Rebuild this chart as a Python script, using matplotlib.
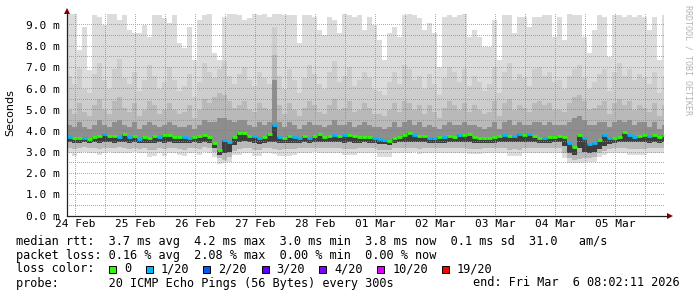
import numpy as np
import matplotlib
matplotlib.use("Agg")
import matplotlib.pyplot as plt
from matplotlib.lines import Line2D
from matplotlib.patches import Rectangle

# Data (ms), one column every 2 hours, starting Feb 24 ~08:30
med = [3.73, 3.68, 3.65, 3.68, 3.60, 3.73, 3.78, 3.86, 3.76, 3.76, 3.70, 3.84, 3.73, 3.76, 3.60, 3.73, 3.68, 3.74, 3.70, 3.81,
       3.79, 3.73, 3.70, 3.70, 3.68, 3.73, 3.76, 3.79, 3.73, 3.45, 3.12, 3.55, 3.47, 3.72, 3.92, 3.89, 3.78, 3.76, 3.65, 3.70,
       3.84, 4.28, 3.73, 3.68, 3.76, 3.73, 3.65, 3.76, 3.68, 3.76, 3.86, 3.73, 3.76, 3.81, 3.78, 3.81, 3.79, 3.76, 3.70, 3.73,
       3.70, 3.65, 3.60, 3.57, 3.54, 3.68, 3.70, 3.81, 3.92, 3.81, 3.76, 3.78, 3.68, 3.65, 3.73, 3.70, 3.78, 3.73, 3.79, 3.79,
       3.84, 3.70, 3.65, 3.66, 3.68, 3.71, 3.76, 3.81, 3.78, 3.76, 3.86, 3.81, 3.86, 3.76, 3.65, 3.68, 3.70, 3.73, 3.78, 3.73,
       3.42, 3.26, 3.81, 3.68, 3.39, 3.42, 3.57, 3.81, 3.65, 3.68, 3.70, 3.95, 3.81, 3.73, 3.76, 3.81, 3.76, 3.79, 3.73, 3.83]

loss = [1, 0, 0, 1, 0, 0, 0, 1, 0, 0, 1, 0, 1, 0, 1, 0, 0, 0, 1, 0,
        0, 0, 0, 1, 1, 0, 0, 0, 0, 0, 0, 1, 1, 0, 0, 0, 0, 1, 1, 0,
        0, 1, 1, 0, 0, 1, 1, 0, 1, 0, 0, 0, 0, 1, 0, 1, 0, 0, 0, 0,
        0, 1, 1, 1, 0, 0, 0, 0, 0, 1, 0, 0, 1, 1, 0, 1, 0, 0, 1, 0,
        0, 0, 0, 0, 0, 0, 0, 1, 0, 1, 1, 0, 1, 0, 0, 1, 0, 0, 0, 0,
        1, 0, 0, 1, 1, 1, 0, 1, 1, 0, 0, 0, 1, 1, 0, 0, 1, 0, 0, 0]

hi = [9.6, 9.6, 7.82, 8.9, 6.87, 9.47, 9.39, 9.0, 9.6, 9.6, 9.23, 9.47, 8.76, 8.6, 8.6, 9.0, 8.45, 9.47, 9.47, 9.31,
      9.07, 9.47, 8.13, 7.89, 8.92, 7.34, 9.23, 9.47, 9.6, 7.66, 7.34, 9.39, 9.6, 9.6, 9.47, 9.23, 9.31, 9.6, 9.47, 9.6,
      9.39, 9.6, 9.6, 9.47, 9.47, 9.47, 8.13, 9.47, 9.47, 9.39, 8.76, 8.53, 9.39, 9.23, 8.6, 9.6, 9.47, 9.39, 9.47, 8.76,
      9.39, 9.0, 8.29, 7.34, 8.6, 8.92, 8.45, 9.47, 9.6, 9.47, 9.31, 8.76, 9.07, 8.6, 7.03, 9.39, 9.47, 9.39, 9.47, 9.6,
      8.45, 8.76, 8.45, 7.97, 7.97, 9.23, 7.34, 9.47, 9.47, 8.6, 9.39, 9.39, 8.92, 9.39, 9.39, 9.47, 9.47, 8.45, 9.39, 8.29,
      9.6, 9.47, 9.47, 8.45, 7.66, 8.76, 9.47, 9.39, 7.5, 9.47, 9.47, 9.39, 9.47, 9.39, 9.47, 9.39, 8.76, 9.39, 7.34, 9.47]

up2 = [6.6, 6.2, 6.9, 6.0, 5.8, 6.7, 7.2, 6.4, 6.0, 6.9, 7.4, 6.5, 6.2, 6.8, 5.9, 6.4, 7.1, 6.6, 6.0, 6.3,
       7.0, 6.4, 5.9, 6.1, 6.7, 5.6, 6.3, 7.2, 6.8, 6.5, 6.9, 7.3, 6.6, 6.2, 6.7, 7.0, 6.4, 6.1, 6.8, 6.5,
       6.2, 8.9, 6.6, 6.0, 6.9, 6.4, 5.8, 6.5, 7.1, 6.7, 6.2, 6.0, 6.8, 7.3, 6.3, 6.6, 7.0, 6.1, 6.4, 6.8,
       6.5, 6.0, 5.9, 5.7, 6.3, 6.8, 6.2, 7.1, 6.9, 6.4, 6.6, 6.0, 6.7, 6.2, 5.7, 6.5, 7.0, 6.8, 6.3, 6.9,
       6.1, 6.6, 6.3, 5.9, 6.2, 7.0, 5.8, 6.8, 7.2, 6.4, 6.7, 6.5, 6.1, 6.9, 7.0, 6.6, 6.8, 6.3, 6.4, 6.0,
       6.6, 6.9, 7.1, 6.5, 6.0, 6.3, 6.7, 6.9, 5.9, 6.8, 7.2, 6.6, 6.9, 6.4, 6.7, 6.5, 6.2, 6.8, 5.8, 6.6]

up1 = [5.0, 4.8, 5.3, 4.9, 4.7, 5.2, 5.5, 5.0, 4.8, 5.4, 5.6, 5.1, 4.9, 5.3, 4.7, 5.0, 5.4, 5.2, 4.8, 5.0,
       5.3, 5.0, 4.8, 4.9, 5.2, 4.6, 5.0, 5.5, 5.3, 5.6, 5.8, 5.7, 5.4, 5.1, 5.2, 5.4, 5.0, 4.9, 5.3, 5.1,
       5.0, 7.6, 5.2, 4.8, 5.3, 5.0, 4.7, 5.1, 5.4, 5.2, 4.9, 4.8, 5.2, 5.5, 5.0, 5.1, 5.4, 4.9, 5.0, 5.3,
       5.1, 4.8, 4.8, 4.7, 5.0, 5.3, 4.9, 5.4, 5.3, 5.0, 5.2, 4.8, 5.2, 4.9, 4.6, 5.1, 5.4, 5.2, 5.0, 5.3,
       4.9, 5.2, 5.0, 4.8, 4.9, 5.4, 4.7, 5.3, 5.5, 5.0, 5.2, 5.1, 4.9, 5.3, 5.4, 5.2, 5.3, 5.0, 5.0, 4.9,
       5.3, 5.6, 5.7, 5.4, 5.0, 5.1, 5.2, 5.4, 4.8, 5.3, 5.5, 5.2, 5.4, 5.0, 5.2, 5.1, 4.9, 5.3, 4.7, 5.2]

up0 = [4.3, 4.2, 4.4, 4.2, 4.1, 4.3, 4.5, 4.3, 4.2, 4.4, 4.5, 4.3, 4.2, 4.4, 4.1, 4.3, 4.4, 4.3, 4.2, 4.3,
       4.4, 4.3, 4.2, 4.2, 4.3, 4.1, 4.3, 4.5, 4.4, 4.4, 4.6, 4.6, 4.5, 4.4, 4.5, 4.5, 4.3, 4.2, 4.4, 4.3,
       4.4, 6.4, 4.4, 4.2, 4.4, 4.3, 4.1, 4.3, 4.4, 4.3, 4.3, 4.2, 4.3, 4.5, 4.3, 4.3, 4.4, 4.2, 4.3, 4.4,
       4.3, 4.2, 4.2, 4.1, 4.2, 4.4, 4.2, 4.4, 4.5, 4.3, 4.4, 4.2, 4.3, 4.2, 4.1, 4.3, 4.4, 4.3, 4.3, 4.4,
       4.3, 4.3, 4.2, 4.1, 4.2, 4.4, 4.1, 4.4, 4.5, 4.3, 4.4, 4.3, 4.3, 4.4, 4.4, 4.3, 4.4, 4.3, 4.3, 4.3,
       4.4, 4.6, 4.7, 4.5, 4.3, 4.3, 4.4, 4.4, 4.2, 4.4, 4.5, 4.4, 4.5, 4.3, 4.4, 4.4, 4.2, 4.4, 4.1, 4.3]

lo2 = [3.46, 3.43, 3.44, 3.47, 3.42, 3.46, 3.44, 3.48, 3.46, 3.45, 3.47, 3.46, 3.44, 3.47, 3.41, 3.45, 3.42, 3.43, 3.46, 3.44,
       3.47, 3.45, 3.43, 3.42, 3.45, 3.46, 3.44, 3.48, 3.45, 3.20, 2.85, 2.95, 3.00, 3.35, 3.50, 3.52, 3.47, 3.42, 3.40, 3.45,
       3.48, 3.50, 3.44, 3.43, 3.45, 3.44, 3.42, 3.46, 3.44, 3.47, 3.48, 3.46, 3.47, 3.48, 3.46, 3.45, 3.46, 3.45, 3.44, 3.46,
       3.45, 3.42, 3.38, 3.36, 3.35, 3.44, 3.46, 3.47, 3.50, 3.47, 3.46, 3.47, 3.44, 3.43, 3.45, 3.44, 3.47, 3.46, 3.47, 3.47,
       3.49, 3.45, 3.42, 3.43, 3.44, 3.45, 3.46, 3.48, 3.47, 3.46, 3.48, 3.47, 3.48, 3.46, 3.42, 3.44, 3.45, 3.46, 3.47, 3.30,
       2.95, 2.85, 3.20, 3.00, 2.95, 3.00, 3.15, 3.30, 3.40, 3.44, 3.46, 3.50, 3.48, 3.46, 3.47, 3.48, 3.45, 3.47, 3.45, 3.48]

lo1 = [3.20, 3.15, 3.18, 3.22, 3.17, 3.20, 3.15, 3.21, 3.19, 3.18, 3.22, 3.20, 3.16, 3.21, 3.15, 3.19, 3.10, 3.12, 3.20, 3.14,
       3.21, 3.18, 3.14, 3.12, 3.19, 3.20, 3.15, 3.22, 3.18, 3.00, 2.70, 2.65, 2.75, 3.05, 3.15, 3.20, 3.18, 3.12, 3.10, 3.19,
       3.20, 3.15, 3.12, 3.13, 3.14, 3.15, 3.18, 3.20, 3.17, 3.21, 3.19, 3.17, 3.20, 3.19, 3.18, 3.14, 3.15, 3.14, 3.19, 3.21,
       3.18, 3.17, 3.10, 3.08, 3.10, 3.19, 3.21, 3.18, 3.20, 3.21, 3.16, 3.19, 3.18, 3.20, 3.19, 3.17, 3.18, 3.19, 3.20, 3.18,
       3.15, 3.16, 3.14, 3.19, 3.20, 3.18, 3.19, 3.21, 3.12, 3.13, 3.12, 3.19, 3.18, 3.20, 3.19, 3.18, 3.20, 3.19, 3.17, 2.95,
       2.70, 2.65, 2.68, 2.72, 2.70, 2.75, 2.95, 3.05, 3.15, 3.18, 3.19, 3.20, 3.14, 3.13, 3.15, 3.14, 3.19, 3.18, 3.20, 3.19]

lo = [2.98, 2.80, 2.97, 2.99, 2.96, 2.98, 2.85, 2.97, 2.99, 2.96, 2.98, 2.97, 2.95, 2.99, 2.96, 2.97, 2.78, 2.80, 2.97, 2.80,
      2.98, 2.96, 2.85, 2.80, 2.97, 2.98, 2.85, 2.99, 2.97, 2.75, 2.45, 2.47, 2.55, 2.85, 2.85, 2.97, 2.96, 2.80, 2.82, 2.97,
      2.98, 2.90, 2.80, 2.80, 2.80, 2.85, 2.97, 2.98, 2.96, 2.99, 2.97, 2.95, 2.98, 2.97, 2.96, 2.85, 2.85, 2.85, 2.97, 2.98,
      2.96, 2.97, 2.78, 2.78, 2.78, 2.97, 2.98, 2.96, 2.97, 2.99, 2.90, 2.97, 2.96, 2.98, 2.97, 2.96, 2.95, 2.97, 2.98, 2.96,
      2.90, 2.90, 2.90, 2.97, 2.98, 2.96, 2.97, 2.98, 2.82, 2.82, 2.82, 2.97, 2.96, 2.98, 2.97, 2.96, 2.98, 2.97, 2.96, 2.70,
      2.47, 2.47, 2.47, 2.47, 2.55, 2.55, 2.75, 2.85, 2.95, 2.97, 2.96, 2.98, 2.85, 2.85, 2.85, 2.85, 2.97, 2.96, 2.98, 2.97]

day_labels = ["24 Feb", "25 Feb", "26 Feb", "27 Feb", "28 Feb",
              "01 Mar", "02 Mar", "03 Mar", "04 Mar", "05 Mar"]
loss_labels = ["0", "1/20", "2/20", "3/20", "4/20", "10/20", "19/20"]
loss_colors = ["#26ff00", "#00b8ff", "#0059ff", "#5e00ff", "#7e00ff", "#dd00ff", "#ff0000"]

stats_rtt = "median rtt:  3.7 ms avg  4.2 ms max  3.0 ms min  3.8 ms now  0.1 ms sd  31.0   am/s"
stats_loss = "packet loss: 0.16 % avg  2.08 % max  0.00 % min  0.00 % now"
probe_txt = "probe:       20 ICMP Echo Pings (56 Bytes) every 300s"
end_txt = "end: Fri Mar  6 08:02:11 2026"

# Layout (pixels)
W, H = 697, 297
X0, X1 = 66.7, 664.0
Y0, Y1 = 215.7, 14.3
T0 = 8.56                     # hours after Feb 24 00:00 at left edge
T1 = T0 + (X1 - X0) / 2.5

def fx(x):
    return x / W

def fy(y):
    return 1 - y / H

mono = "DejaVu Sans Mono"
grid_c = (0.56, 0.56, 0.56, 0.75)
mgrid_c = (0.87, 0.31, 0.31, 0.60)
axis_c = (0.13, 0.13, 0.13)
arrow_c = (0.5, 0.0, 0.0)
fs = 8.55

fig = plt.figure(figsize=(W / 100, H / 100), dpi=100)
fig.patch.set_facecolor("white")
ax = fig.add_axes([fx(X0), fy(Y0), (X1 - X0) / W, (Y0 - Y1) / H])
ax.set_xlim(T0, T1)
ax.set_ylim(0, 9.5)
for s in ax.spines.values():
    s.set_visible(False)

edges = 8.5 + 2 * np.arange(len(med) + 1)

# smoke
layers = [(lo, hi, "#dcdcdc"), (lo1, up2, "#cdcdcd"), (lo1, up1, "#b9b9b9"),
          (lo2, up0, "#8e8e8e"), (lo2, med, "#3e3e3e")]
for bot, top, c in layers:
    ax.stairs(top, edges, baseline=bot, fill=True, color=c, linewidth=0, zorder=1)

# median coloured by loss
lc = ax.hlines(med, edges[:-1], edges[1:], colors=[loss_colors[l] for l in loss],
               linewidth=2.0, zorder=3)
lc.set_capstyle("butt")

# dotted grid as a pixel overlay (1 px on, 1 px off)
overlay = np.zeros((H, W, 4))
col_a, col_b = int(X0) + 1, int(X1)
row_a, row_b = int(Y1), int(Y0)

def hdots(v, c):
    r = int(H - ax.transData.transform((T0, v))[1])
    overlay[r, col_a:col_b:2] = c

def vdots(t, c):
    k = int(ax.transData.transform((t, 0))[0])
    overlay[row_a:row_b:2, k] = c

for v in np.arange(0.5, 9.5, 1.0):
    hdots(v, grid_c)
for v in range(1, 10):
    hdots(v, mgrid_c)
for d in range(len(day_labels)):
    vdots(12 + 24 * d, grid_c)
    vdots(24 + 24 * d, mgrid_c)
fig.figimage(overlay, xo=0, yo=0, zorder=2)

ax.set_yticks(range(10))
ax.set_yticklabels(["%.1f m" % v for v in range(10)], family=mono, fontsize=8.0)
ax.set_xticks([12 + 24 * d for d in range(len(day_labels))])
ax.set_xticklabels(day_labels, family=mono, fontsize=8.0)
ax.tick_params(length=0, pad=2.5)
ax.tick_params(axis="y", pad=4.8)

# axes with arrows
fig.add_artist(Line2D([fx(X0), fx(X0)], [fy(Y0), fy(10)], color=axis_c, lw=0.9, zorder=3))
fig.add_artist(Line2D([fx(X0), fx(669)], [fy(Y0), fy(Y0)], color=axis_c, lw=0.9, zorder=3))
fig.add_artist(Line2D([fx(X0)], [fy(10.5)], marker="^", ms=4, color=arrow_c, mew=0, zorder=3))
fig.add_artist(Line2D([fx(670)], [fy(Y0)], marker=">", ms=4, color=arrow_c, mew=0, zorder=3))

fig.text(fx(10.5), fy(113), "Seconds", rotation=90, ha="center", va="center", fontsize=8)
fig.text(fx(688), fy(60), "RRDTOOL / TOBI OETIKER", rotation=270, ha="center", va="center",
         family=mono, fontsize=6, color="#b4b4b4")

# legend
fig.text(fx(16), fy(241), stats_rtt, family=mono, fontsize=fs, va="center")
fig.text(fx(16), fy(255), stats_loss, family=mono, fontsize=fs, va="center")
fig.text(fx(16), fy(269), "loss color:", family=mono, fontsize=fs, va="center")
box_x = [108.7, 145.7, 203.3, 261.7, 319.3, 377.3, 442.3]
lab_x = [124, 160.7, 218.3, 276.7, 334, 392.7, 457]
for bx, tx, lab, c in zip(box_x, lab_x, loss_labels, loss_colors):
    fig.add_artist(Rectangle((fx(bx), fy(273)), 7 / W, 7 / H, facecolor=c,
                             edgecolor="black", lw=0.7, transform=fig.transFigure))
    fig.text(fx(tx), fy(269), lab, family=mono, fontsize=fs, va="center")
fig.text(fx(16), fy(283), probe_txt, family=mono, fontsize=fs, va="center")
fig.text(fx(680), fy(283), end_txt, family=mono, fontsize=fs, va="center", ha="right")

fig.savefig("out.png", dpi=100)
